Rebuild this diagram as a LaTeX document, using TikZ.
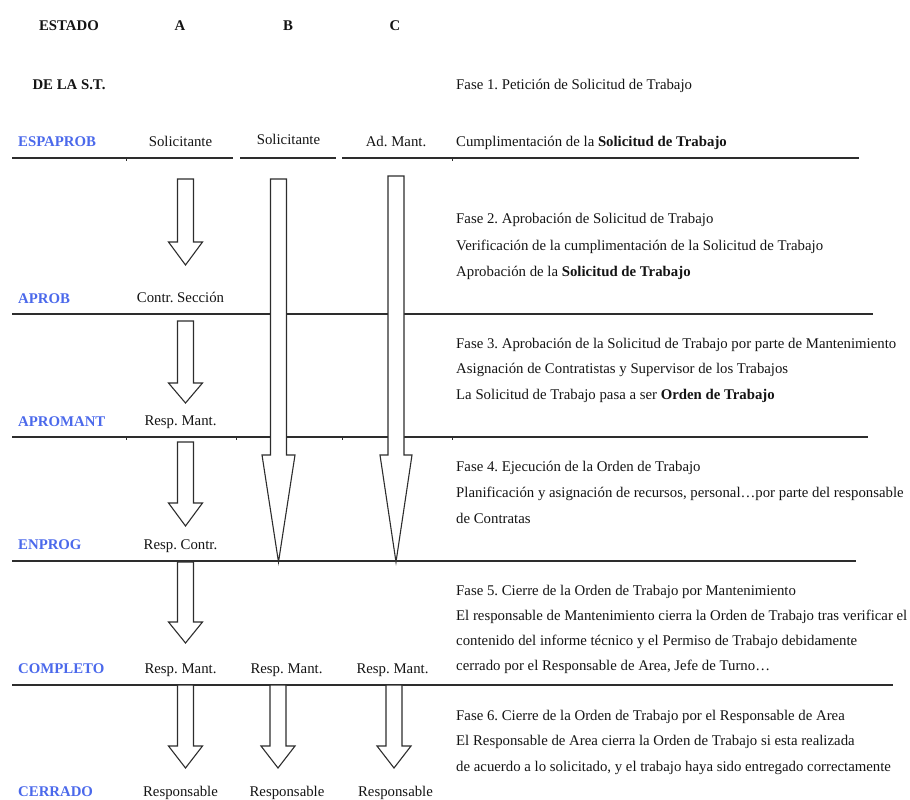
\documentclass[tikz,border=0pt]{standalone}
\usepackage{fontspec}
\setmainfont{Liberation Serif}
\definecolor{statecol}{RGB}{75,105,235}
\definecolor{rulecol}{RGB}{45,45,45}
\definecolor{inkcol}{RGB}{20,20,20}

% hollow block arrow: centre x, top y, head start y, tip y, half shaft, half head
\newcommand\blockarrow[6]{%
  \draw[arrowline] ({#1-#5},#2) -- ({#1+#5},#2) -- ({#1+#5},#3) -- ({#1+#6},#3)
    -- (#1,#4) -- ({#1-#6},#3) -- ({#1-#5},#3) -- cycle;}

\newcommand\bodyfont{\fontsize{14.8}{18}\selectfont\frenchspacing}

\tikzset{
  txt/.style={inner sep=0pt, text=inkcol, font=\bodyfont},
  hdr/.style={txt, anchor=base, font=\bodyfont\bfseries},
  state/.style={txt, anchor=base west, text=statecol, font=\bodyfont\bfseries},
  who/.style={txt, anchor=base},
  desc/.style={txt, anchor=base west},
  rowrule/.style={draw=rulecol, line width=1.3pt},
  tick/.style={draw=rulecol, line width=0.8pt},
  arrowline/.style={draw=rulecol, line width=1.1pt, fill=white, line join=miter},
}

\begin{document}
\begin{tikzpicture}[x=1pt, y=-1pt]
\useasboundingbox (0,0) rectangle (910,800);

% column headings
\node[hdr] (hEstado) at (69,31) {ESTADO};
\node[hdr] (hA) at (180,31) {A};
\node[hdr] (hB) at (288,31) {B};
\node[hdr] (hC) at (395,31) {C};
\node[hdr] (hDeLa) at (69,89) {DE LA S.T.};
\node[desc] (f1a) at (456,89) {Fase 1. Petición de Solicitud de Trabajo};

% row separators
\draw[rowrule] (12,158) -- (233,158);
\draw[rowrule] (240,158) -- (336,158);
\draw[rowrule] (342,158) -- (859,158);
\draw[rowrule] (12,314) -- (873,314);
\draw[rowrule] (12,437) -- (868,437);
\draw[rowrule] (12,561) -- (856,561);
\draw[rowrule] (12,685) -- (893,685);
\foreach \tx in {126,452} \draw[tick] (\tx,158) -- (\tx,161);
\foreach \tx in {126,236,342,452} \draw[tick] (\tx,437) -- (\tx,440);

% states
\node[state] (sEspaprob) at (18,146) {ESPAPROB};
\node[state] (sAprob) at (18,303) {APROB};
\node[state] (sApromant) at (18,426) {APROMANT};
\node[state] (sEnprog) at (18,549) {ENPROG};
\node[state] (sCompleto) at (18,673) {COMPLETO};
\node[state] (sCerrado) at (18,796) {CERRADO};

% who acts in each column
\node[who] (a1) at (180.5,146) {Solicitante};
\node[who] (b1) at (288.5,144) {Solicitante};
\node[who] (c1) at (396,146) {Ad. Mant.};
\node[who] (a2) at (180.5,302) {Contr. Sección};
\node[who] (a3) at (180.5,425) {Resp. Mant.};
\node[who] (a4) at (180.5,549) {Resp. Contr.};
\node[who] (a5) at (180.5,673) {Resp. Mant.};
\node[who] (b5) at (286.5,673) {Resp. Mant.};
\node[who] (c5) at (392.5,673) {Resp. Mant.};
\node[who] (a6) at (180.5,796) {Responsable};
\node[who] (b6) at (287,796) {Responsable};
\node[who] (c6) at (395.5,796) {Responsable};

% phase descriptions
\node[desc] (f1b) at (456,146) {Cumplimentación de la \textbf{Solicitud de Trabajo}};
\node[desc] (f2a) at (456,223) {Fase 2. Aprobación de Solicitud de Trabajo};
\node[desc] (f2b) at (456,250) {Verificación de la cumplimentación de la Solicitud de Trabajo};
\node[desc] (f2c) at (456,276) {Aprobación de la \textbf{Solicitud de Trabajo}};
\node[desc] (f3a) at (456,348) {Fase 3. Aprobación de la Solicitud de Trabajo por parte de Mantenimiento};
\node[desc] (f3b) at (456,373) {Asignación de Contratistas y Supervisor de los Trabajos};
\node[desc] (f3c) at (456,399) {La Solicitud de Trabajo pasa a ser \textbf{Orden de Trabajo}};
\node[desc] (f4a) at (456,471) {Fase 4. Ejecución de la Orden de Trabajo};
\node[desc] (f4b) at (456,497) {Planificación y asignación de recursos, personal…por parte del responsable};
\node[desc] (f4c) at (456,523) {de Contratas};
\node[desc] (f5a) at (456,595) {Fase 5. Cierre de la Orden de Trabajo por Mantenimiento};
\node[desc] (f5b) at (456,620) {El responsable de Mantenimiento cierra la Orden de Trabajo tras verificar el};
\node[desc] (f5c) at (456,645) {contenido del informe técnico y el Permiso de Trabajo debidamente};
\node[desc] (f5d) at (456,670) {cerrado por el Responsable de Area, Jefe de Turno…};
\node[desc] (f6a) at (456,720) {Fase 6. Cierre de la Orden de Trabajo por el Responsable de Area};
\node[desc] (f6b) at (456,745) {El Responsable de Area cierra la Orden de Trabajo si esta realizada};
\node[desc] (f6c) at (456,771) {de acuerdo a lo solicitado, y el trabajo haya sido entregado correctamente};

% column A, one step per row
\blockarrow{185.5}{179}{242}{265}{8}{17}
\blockarrow{185.5}{321}{383}{403}{8}{17}
\blockarrow{185.5}{442}{503}{526}{8}{17}
\blockarrow{185.5}{562}{622}{643}{8}{17}
\blockarrow{185.5}{685}{746}{768}{8}{17}
% columns B and C skip straight to ENPROG
\blockarrow{278.5}{179}{455}{562}{8}{16.5}
\blockarrow{396}{176}{455}{562}{8}{16}
% closing step for B and C
\blockarrow{278}{685}{746}{768}{8}{17}
\blockarrow{394}{685}{746}{768}{8}{17}
\end{tikzpicture}
\end{document}
